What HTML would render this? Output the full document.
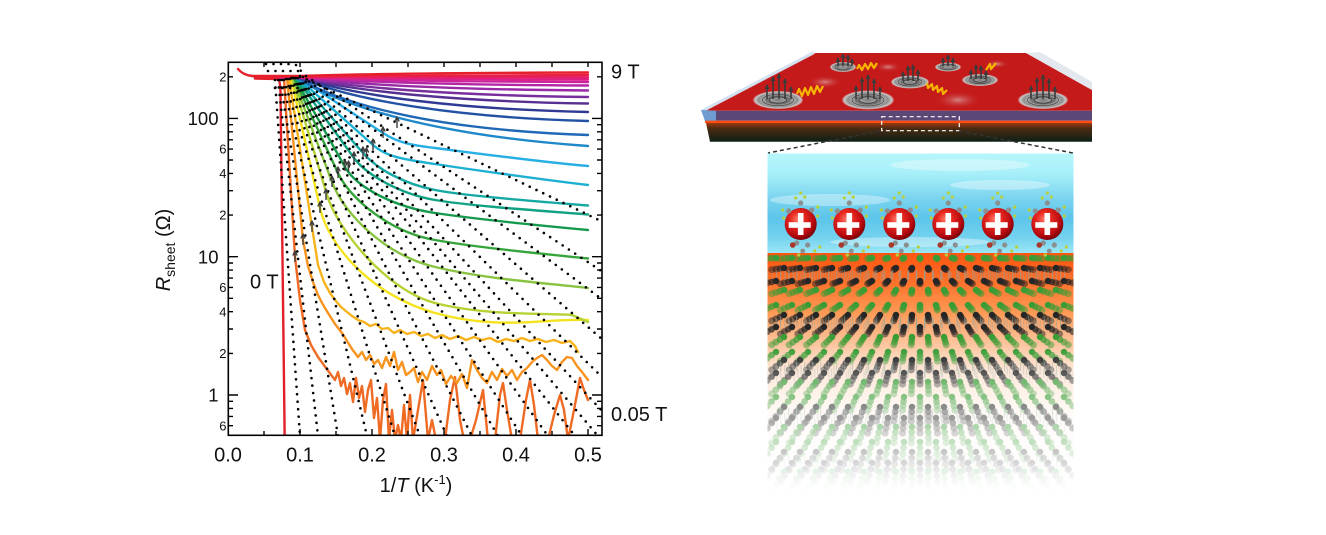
<!DOCTYPE html>
<html><head><meta charset="utf-8"><style>
html,body{margin:0;padding:0;background:#fff;}
svg{display:block;font-family:"Liberation Sans",Arial,Helvetica,sans-serif;}
</style></head><body>
<svg width="1326" height="535" viewBox="0 0 1326 535" xmlns="http://www.w3.org/2000/svg">
<defs>
<clipPath id="pc"><rect x="228.5" y="62.5" width="373" height="372.6"/></clipPath>
<clipPath id="panelc"><rect x="767.5" y="253" width="306" height="240"/></clipPath>
<linearGradient id="slabDark" x1="0" y1="0" x2="0" y2="1"><stop offset="0" stop-color="#9a3a10"/><stop offset="0.3" stop-color="#4a2a12"/><stop offset="1" stop-color="#0d2016"/></linearGradient>
<radialGradient id="vort"><stop offset="0" stop-color="#7a7a7a"/><stop offset="0.25" stop-color="#9c9c9c"/><stop offset="0.45" stop-color="#6a6a6a"/><stop offset="0.6" stop-color="#b0b0b0"/><stop offset="0.78" stop-color="#8d8d8d"/><stop offset="0.9" stop-color="#c8c8c8"/><stop offset="1" stop-color="#d8d8d8" stop-opacity="0.3"/></radialGradient>
<radialGradient id="fadeb"><stop offset="0" stop-color="#dca4a4" stop-opacity="0.75"/><stop offset="1" stop-color="#c51a1a" stop-opacity="0"/></radialGradient>
<linearGradient id="sky" x1="0" y1="0" x2="0" y2="1"><stop offset="0" stop-color="#b5f6fb"/><stop offset="0.2" stop-color="#a8f0f9"/><stop offset="0.45" stop-color="#7bd4f0"/><stop offset="0.65" stop-color="#5cc5ea"/><stop offset="0.85" stop-color="#74d2ef"/><stop offset="1" stop-color="#9de6f5"/></linearGradient>
<linearGradient id="orng" x1="0" y1="0" x2="0" y2="1"><stop offset="0" stop-color="#ff5512"/><stop offset="0.1" stop-color="#ff6a22"/><stop offset="0.25" stop-color="#fe9a56"/><stop offset="0.37" stop-color="#fcc29a"/><stop offset="0.5" stop-color="#fde3d0"/><stop offset="0.7" stop-color="#fff6f0"/><stop offset="1" stop-color="#ffffff"/></linearGradient>
<linearGradient id="wfade" x1="0" y1="0" x2="0" y2="1"><stop offset="0" stop-color="#fff" stop-opacity="0"/><stop offset="0.25" stop-color="#fff" stop-opacity="0.3"/><stop offset="0.5" stop-color="#fff" stop-opacity="0.55"/><stop offset="0.75" stop-color="#fff" stop-opacity="0.78"/><stop offset="0.92" stop-color="#fff" stop-opacity="0.95"/><stop offset="1" stop-color="#fff" stop-opacity="1"/></linearGradient>
<radialGradient id="ball" cx="0.4" cy="0.35" r="0.65"><stop offset="0" stop-color="#ff7a6a"/><stop offset="0.35" stop-color="#e8281f"/><stop offset="0.8" stop-color="#b5090f"/><stop offset="1" stop-color="#7c0309"/></radialGradient>
<marker id="ah" viewBox="0 0 6 6" refX="5" refY="3" markerWidth="5" markerHeight="5" orient="auto" markerUnits="userSpaceOnUse"><path d="M0 0L6 3L0 6z" fill="#3a3a3a"/></marker>
<g id="mol">
<circle cx="0" cy="-21" r="2.6" fill="#8a8f8f"/><circle cx="-12" cy="-13" r="2.6" fill="#8a8f8f"/><circle cx="11" cy="-14" r="2.6" fill="#8a8f8f"/><circle cx="-4" cy="19" r="2.6" fill="#8a8f8f"/><circle cx="7" cy="21" r="2.6" fill="#8a8f8f"/><circle cx="2" cy="27" r="2.4" fill="#8a8f8f"/>
<circle cx="-5" cy="-26" r="1.6" fill="#b7cf3d"/><circle cx="4" cy="-27" r="1.6" fill="#b7cf3d"/><circle cx="0" cy="-31" r="1.6" fill="#b7cf3d"/><circle cx="-17" cy="-6" r="1.6" fill="#b7cf3d"/><circle cx="17" cy="-8" r="1.6" fill="#b7cf3d"/><circle cx="-18" cy="-14" r="1.6" fill="#b7cf3d"/><circle cx="17" cy="-17" r="1.6" fill="#b7cf3d"/><circle cx="14" cy="27" r="1.6" fill="#b7cf3d"/><circle cx="19" cy="23" r="1.6" fill="#b7cf3d"/><circle cx="-2" cy="31" r="1.6" fill="#b7cf3d"/>
<circle cx="-8" cy="21" r="2.8" fill="#a8382a"/>
</g>
<g id="lat" stroke-linecap="round" fill="none">
<g stroke="#8aa5a2" stroke-width="9" stroke-dasharray="1.2 6.8" stroke-linecap="butt" opacity="0.5">
<line x1="780" y1="274.5" x2="1066" y2="274.5"/><line x1="780" y1="321" x2="1066" y2="321"/><line x1="780" y1="366.5" x2="1066" y2="366.5"/><line x1="780" y1="412.5" x2="1066" y2="412.5"/><line x1="780" y1="457.5" x2="1066" y2="457.5"/>
</g>
<g stroke="#3a9c35" stroke-width="6.5" stroke-dasharray="0 16">
<line x1="776" y1="258" x2="1068" y2="258"/><line x1="784" y1="290" x2="1068" y2="290"/><line x1="776" y1="305" x2="1068" y2="305"/><line x1="784" y1="337" x2="1068" y2="337"/><line x1="776" y1="352" x2="1068" y2="352"/><line x1="784" y1="382" x2="1068" y2="382"/><line x1="776" y1="397" x2="1068" y2="397"/><line x1="784" y1="427" x2="1068" y2="427"/><line x1="776" y1="442" x2="1068" y2="442"/><line x1="784" y1="472" x2="1068" y2="472"/>
</g>
<g stroke="#262626" stroke-width="6.5" stroke-dasharray="0 16">
<line x1="784" y1="268" x2="1068" y2="268"/><line x1="776" y1="281" x2="1068" y2="281"/><line x1="784" y1="315" x2="1068" y2="315"/><line x1="776" y1="327" x2="1068" y2="327"/><line x1="784" y1="360" x2="1068" y2="360"/><line x1="776" y1="373" x2="1068" y2="373"/><line x1="784" y1="407" x2="1068" y2="407"/><line x1="776" y1="418" x2="1068" y2="418"/><line x1="784" y1="452" x2="1068" y2="452"/><line x1="776" y1="463" x2="1068" y2="463"/>
</g>
</g>
</defs>

<!-- ===== CHART ===== -->
<g clip-path="url(#pc)" fill="none" stroke-width="2.4" stroke-linejoin="round" stroke-linecap="round">
<path stroke="#ef6a23" d="M255 78 L284 78 L295 257 L300 300 L305 330 L311 345 L318 357 L326 368 L332 376 L335 380 L338 372 L341 386 L344 378 L347 394 L350 383 L353 402 L356 378 L359 398 L362 386 L365 412 L368 390 L371 380 L374 418 L377 398 L380 440 L383 400 L386 384 L389 440 L392 410 L395 440 L398 425 L401 440 L404 405 L407 440 L410 395 L413 440 L418 410 L423 380 L428 440 L432 420 L436 440 L445 440 L450 400 L455 377 L460 420 L464 440 L470 440 L476 420 L483 390 L488 440 L495 440 L500 395 L503 383 L507 410 L512 440 L520 440 L526 400 L530 380 L534 405 L538 440 L548 440 L554 415 L560 395 L564 410 L568 440 L574 410 L580 378 L584 390 L588 400"/>
<path stroke="#f7931e" d="M255 78 L287 78 L303 240 L308 266 L313 282 L318 295 L322 303 L328 313 L335 324 L342 333 L347 341 L352 349 L358 357 L362 352 L366 360 L370 355 L374 364 L378 360 L382 368 L386 357 L390 366 L394 352 L398 370 L402 362 L406 375 L410 372 L414 368 L418 382 L422 372 L427 380 L432 366 L437 375 L441 370 L446 384 L451 376 L457 383 L462 374 L467 388 L472 360 L477 370 L482 378 L487 383 L492 372 L497 380 L502 369 L507 376 L512 370 L517 380 L522 372 L527 368 L532 362 L537 358 L542 355 L547 360 L552 366 L557 370 L562 362 L567 357 L572 358 L577 366 L582 372 L588 380"/>
<path stroke="#f8b21b" d="M255 78 L289 78 L312 227 L318 265 L324 282 L330 293 L335 300 L341 307 L347 312 L352 316 L358 320 L364 322 L370 326 L376 324 L382 329 L388 328 L394 333 L400 330 L407 334 L414 332 L421 336 L428 334 L435 338 L442 335 L450 339 L458 336 L466 340 L474 337 L482 340 L490 338 L498 342 L506 339 L514 341 L522 338 L530 341 L538 339 L546 342 L554 340 L562 343 L570 341 L575 346 L578 352"/>
<path stroke="#f4e31c" d="M255 78 L291 78 L320 208 C328 244 370 295 435 313 S545 318 588 320"/>
<path stroke="#b5d335" d="M255 78 L292 78 L327 195 C337 228 385 290 435 303 S548 313 572 315 L588 322"/>
<path stroke="#88c341" d="M255 78 L293 78 L332 182 C344 214 385 255 435 267 S545 283 588 288"/>
<path stroke="#35a53c" d="M255 78 L294 78 L338 173 C350 199 390 232 435 240 S545 254 588 258.5"/>
<path stroke="#169a4d" d="M255 78 L295 78 L345 167 C357 188 395 207 435 213 S545 226 588 230"/>
<path stroke="#11a283" d="M255 78 L296 78 L354 158 C366 174.5 400 194 435 200 S545 211 588 214.5"/>
<path stroke="#16a9a4" d="M255 78 L297 78 L363 153 C378 170 405 184 435 190 S545 202 588 205.5"/>
<path stroke="#1eb0d3" d="M255 78 L298 78 L373 145 C388 158.4 410 160 435 164 S545 180 588 185"/>
<path stroke="#28afe6" d="M255 78 L299 78 L383 133 C400 144 415 145.5 435 148 S540 162 588 166"/>
<path stroke="#1e88ca" d="M255 78 L296 78 C340 105 430 135 588 146"/>
<path stroke="#1f68b6" d="M255 78 L298 78 C350 109 450 130.4 588 135"/>
<path stroke="#2351a4" d="M255 78 L299 78 C358 101.7 460 117.6 588 121"/>
<path stroke="#303a92" d="M255 78 L300 78 C360 96.7 460 109.3 588 112"/>
<path stroke="#573192" d="M255 78 L300 78 C360 92 460 101.5 588 103.5"/>
<path stroke="#782f9d" d="M255 78 L300 78 C360 88.5 460 95.5 588 97"/>
<path stroke="#982ba5" d="M255 78 L300 78 C360 84.9 460 89.5 588 90.5"/>
<path stroke="#b426a6" d="M255 77.5 L300 77.5 C360 81.9 460 84.9 588 85.5"/>
<path stroke="#cc239c" d="M255 77.5 L300 77.5 C360 80 460 81.6 588 82"/>
<path stroke="#dc2086" d="M255 77 L300 77 C360 78.4 460 79.3 588 79.5"/>
<path stroke="#e41f68" d="M255 77 L300 77 C360 77.1 460 77.3 588 77.3"/>
<path stroke="#e91f48" d="M255 76.5 L300 76.5 C360 75.7 460 75.1 588 75"/>
<path stroke="#e5202a" d="M238 69 Q243 75 252 76 L300 76 C360 74 460 72.8 588 72.5"/>
<path stroke="#e3202a" d="M255 78.5 L278 79 Q280 80 280.5 92 L284.7 440"/>
<!-- dotted fits -->
<g stroke="#000" stroke-width="2.6" stroke-dasharray="0 7.5">
<line x1="275" y1="80" x2="300" y2="436"/><line x1="278" y1="80" x2="318" y2="436"/><line x1="280" y1="80" x2="338" y2="436"/><line x1="282" y1="80" x2="367" y2="436"/><line x1="284" y1="80" x2="395" y2="436"/><line x1="286" y1="79" x2="420" y2="436"/><line x1="288" y1="79" x2="447" y2="436"/><line x1="290" y1="79" x2="472" y2="436"/><line x1="291" y1="78" x2="498" y2="436"/><line x1="292" y1="78" x2="522" y2="436"/><line x1="293" y1="78" x2="548" y2="436"/><line x1="294" y1="78" x2="575" y2="436"/><line x1="295" y1="78" x2="598" y2="436"/><line x1="296" y1="78" x2="603" y2="412"/><line x1="298" y1="78" x2="603" y2="378"/><line x1="300" y1="77" x2="603" y2="340"/><line x1="303" y1="77" x2="603" y2="300"/><line x1="306" y1="76" x2="603" y2="272"/><line x1="300" y1="76" x2="603" y2="222"/>
<path d="M266 64 H292"/><path d="M268 71 H300"/><path d="M296 65 Q300 68 304 77"/><path d="M275 88 H303"/>
</g>
<g stroke="#3d3d3d" stroke-width="1.4" stroke-dasharray="none" stroke-linecap="butt">
<path d="M397 128V117M394.8 121.5L397 117L399.2 121.5"/>
<path d="M383 138V127M380.8 131.5L383 127L385.2 131.5"/>
<path d="M373 150V139M370.8 143.5L373 139L375.2 143.5"/>
<path d="M363 158V147M360.8 151.5L363 147L365.2 151.5"/>
<path d="M366.5 159V148M364.3 152.5L366.5 148L368.7 152.5"/>
<path d="M354 163V152M351.8 156.5L354 152L356.2 156.5"/>
<path d="M345 171V160M342.8 164.5L345 160L347.2 164.5"/>
<path d="M348.5 172V161M346.3 165.5L348.5 161L350.7 165.5"/>
<path d="M338 178V167M335.8 171.5L338 167L340.2 171.5"/>
<path d="M332 187V176M329.8 180.5L332 176L334.2 180.5"/>
<path d="M326 200V189M323.8 193.5L326 189L328.2 193.5"/>
<path d="M320 213V202M317.8 206.5L320 202L322.2 206.5"/>
<path d="M312 232V221M309.8 225.5L312 221L314.2 225.5"/>
<path d="M303 245V234M300.8 238.5L303 234L305.2 238.5"/>
<path d="M295 262V251M292.8 255.5L295 251L297.2 255.5"/>
</g>
</g>
<!-- frame and ticks -->
<rect x="228.3" y="62.3" width="373.7" height="373" fill="none" stroke="#000" stroke-width="1.6"/>
<path fill="none" stroke="#000" stroke-width="1.4" d="M228 425.7h5M228 416.4h5M228 408.4h5M228 401.3h5M228 353.4h5M228 329h5M228 311.7h5M228 298.3h5M228 287.4h5M228 278.1h5M228 270.1h5M228 263h5M228 215.1h5M228 190.7h5M228 173.4h5M228 160h5M228 149.1h5M228 139.8h5M228 131.8h5M228 124.7h5M228 76.8h5M228 395h10M228 256.7h10M228 118.4h10
M602 425.7h-5M602 416.4h-5M602 408.4h-5M602 401.3h-5M602 353.4h-5M602 329h-5M602 311.7h-5M602 298.3h-5M602 287.4h-5M602 278.1h-5M602 270.1h-5M602 263h-5M602 215.1h-5M602 190.7h-5M602 173.4h-5M602 160h-5M602 149.1h-5M602 139.8h-5M602 131.8h-5M602 124.7h-5M602 76.8h-5M602 395h-10M602 256.7h-10M602 118.4h-10
M264 62v5M300 62v5M336 62v5M372 62v5M408 62v5M444 62v5M480 62v5M516 62v5M552 62v5M588 62v5
M264 435v-4M300 435v-6M336 435v-4M372 435v-6M408 435v-4M444 435v-6M480 435v-4M516 435v-6M552 435v-4M588 435v-6"/>
<g fill="#111" font-size="13" text-anchor="end">
<text x="226.5" y="81.4">2</text><text x="226.5" y="153.7">6</text><text x="226.5" y="178">4</text><text x="226.5" y="219.7">2</text><text x="226.5" y="292">6</text><text x="226.5" y="316.3">4</text><text x="226.5" y="358">2</text><text x="226.5" y="430.3">6</text>
</g>
<g fill="#111" font-size="18.5" text-anchor="end">
<text x="218.5" y="125">100</text><text x="218.5" y="263.3">10</text><text x="218.5" y="401.6">1</text>
</g>
<g fill="#111" font-size="20" text-anchor="middle">
<text x="228" y="461.5">0.0</text><text x="300" y="461.5">0.1</text><text x="372" y="461.5">0.2</text><text x="444" y="461.5">0.3</text><text x="516" y="461.5">0.4</text><text x="588" y="461.5">0.5</text>
</g>
<text x="416" y="492" text-anchor="middle" font-size="20" fill="#111">1/<tspan font-style="italic">T</tspan> (K<tspan font-size="13" dy="-8">-1</tspan><tspan dy="8">)</tspan></text>
<text transform="translate(170,250) rotate(-90)" text-anchor="middle" font-size="20" fill="#111"><tspan font-style="italic">R</tspan><tspan font-size="14" dy="5">sheet</tspan><tspan dy="-5"> (Ω)</tspan></text>
<text x="611" y="78.5" font-size="20" fill="#111">9 T</text>
<text x="250" y="288.5" font-size="20" fill="#111">0 T</text>
<text x="611" y="421" font-size="20" fill="#111">0.05 T</text>

<!-- ===== ILLUSTRATION ===== -->
<polygon points="815,53 1026,53 1092,90 1092,110.7 703,110.7" fill="#c51a1a"/>
<polygon points="1026,53 1040,52 1092,82 1092,90" fill="#e3e8ee"/>
<line x1="702" y1="111" x2="814" y2="52.5" stroke="#d3e2f0" stroke-width="3"/>
<polygon points="703,110.7 1092,110.7 1092,120.7 705,120.7" fill="#5c4877"/>
<polygon points="701,110 716,110.7 716,120.7 705,121" fill="#6e9bd2"/>
<rect x="705" y="120.7" width="387" height="2.3" fill="#ff4a10"/>
<polygon points="706,123 1092,123 1092,141.7 710,141.7" fill="url(#slabDark)"/>
<!-- faded blobs -->
<ellipse cx="825" cy="82" rx="18" ry="6.5" fill="url(#fadeb)"/>
<ellipse cx="888" cy="67" rx="13" ry="5" fill="url(#fadeb)"/>
<ellipse cx="958" cy="100" rx="24" ry="9" fill="url(#fadeb)"/>
<ellipse cx="997" cy="64" rx="12" ry="4.5" fill="url(#fadeb)"/>
<!-- vortices -->
<g fill="none">
<ellipse cx="778" cy="100" rx="25" ry="9" fill="url(#vort)"/><ellipse cx="778" cy="100" rx="15.5" ry="5.6" stroke="#4a4a4a" stroke-width=".8"/><ellipse cx="778" cy="100" rx="8.8" ry="3.2" stroke="#3a3a3a" stroke-width=".8"/>
<ellipse cx="868" cy="100" rx="26" ry="9.5" fill="url(#vort)"/><ellipse cx="868" cy="100" rx="16" ry="5.9" stroke="#4a4a4a" stroke-width=".8"/><ellipse cx="868" cy="100" rx="9" ry="3.3" stroke="#3a3a3a" stroke-width=".8"/>
<ellipse cx="1043" cy="100" rx="25" ry="9" fill="url(#vort)"/><ellipse cx="1043" cy="100" rx="15.5" ry="5.6" stroke="#4a4a4a" stroke-width=".8"/><ellipse cx="1043" cy="100" rx="8.8" ry="3.2" stroke="#3a3a3a" stroke-width=".8"/>
<ellipse cx="910" cy="82" rx="19" ry="6.5" fill="url(#vort)"/><ellipse cx="910" cy="82" rx="11.8" ry="4" stroke="#4a4a4a" stroke-width=".8"/><ellipse cx="910" cy="82" rx="6.6" ry="2.3" stroke="#3a3a3a" stroke-width=".8"/>
<ellipse cx="843" cy="67" rx="13" ry="5" fill="url(#vort)"/><ellipse cx="843" cy="67" rx="8" ry="3.1" stroke="#4a4a4a" stroke-width=".8"/>
<ellipse cx="948" cy="67" rx="13" ry="4.5" fill="url(#vort)"/><ellipse cx="948" cy="67" rx="8" ry="2.8" stroke="#4a4a4a" stroke-width=".8"/>
<ellipse cx="980" cy="80" rx="18" ry="6" fill="url(#vort)"/><ellipse cx="980" cy="80" rx="11" ry="3.7" stroke="#4a4a4a" stroke-width=".8"/><ellipse cx="980" cy="80" rx="6.3" ry="2.1" stroke="#3a3a3a" stroke-width=".8"/>
</g>
<g stroke="#3a3a3a" stroke-width="1.6" marker-end="url(#ah)">
<line x1="767" y1="99" x2="767" y2="85"/><line x1="773" y1="99" x2="773" y2="77"/><line x1="779" y1="99" x2="779" y2="74"/><line x1="785" y1="99" x2="785" y2="79"/><line x1="791" y1="99" x2="791" y2="87"/>
<line x1="856" y1="99" x2="856" y2="86"/><line x1="862" y1="99" x2="862" y2="78"/><line x1="868" y1="99" x2="868" y2="75"/><line x1="874" y1="99" x2="874" y2="79"/><line x1="880" y1="99" x2="880" y2="87"/>
<line x1="1031" y1="99" x2="1031" y2="86"/><line x1="1037" y1="99" x2="1037" y2="78"/><line x1="1043" y1="99" x2="1043" y2="75"/><line x1="1049" y1="99" x2="1049" y2="79"/><line x1="1055" y1="99" x2="1055" y2="87"/>
<line x1="903" y1="81" x2="903" y2="72"/><line x1="908" y1="81" x2="908" y2="66"/><line x1="913" y1="81" x2="913" y2="65"/><line x1="918" y1="81" x2="918" y2="70"/>
<line x1="838" y1="66" x2="838" y2="58"/><line x1="843" y1="66" x2="843" y2="54"/><line x1="848" y1="66" x2="848" y2="55"/><line x1="852" y1="66" x2="852" y2="59"/>
<line x1="943" y1="66" x2="943" y2="58"/><line x1="948" y1="66" x2="948" y2="55"/><line x1="953" y1="66" x2="953" y2="58"/>
<line x1="971" y1="79" x2="971" y2="70"/><line x1="976" y1="79" x2="976" y2="65"/><line x1="981" y1="79" x2="981" y2="66"/><line x1="986" y1="79" x2="986" y2="71"/>
</g>
<g fill="none" stroke="#f6b600" stroke-width="2.2" stroke-linejoin="round">
<polyline points="797,94 799,89 802,96 805,88 808,95 811,87 814,94 817,86 820,92 823,86"/>
<polyline points="857,69 859,65 862,70 865,64 868,69 871,63 874,68 877,63"/>
<polyline points="927,83 928,88 932,84 933,90 937,86 938,92 942,88 943,94 947,90"/>
<polyline points="986,70 990,64 991,69 996,63"/>
</g>
<rect x="881.7" y="116.7" width="77.6" height="14" fill="none" stroke="#fff" stroke-width="1.2" stroke-dasharray="4 3"/>
<g stroke="#333" stroke-width="1.5" stroke-dasharray="4 3">
<line x1="880" y1="131" x2="768" y2="153"/><line x1="959" y1="131" x2="1073" y2="153"/>
</g>
<!-- zoomed panel -->
<rect x="767.5" y="153.5" width="306" height="99.5" fill="url(#sky)"/>
<g fill="#ffffff" opacity="0.35">
<ellipse cx="830" cy="200" rx="60" ry="6"/><ellipse cx="1000" cy="185" rx="50" ry="5"/><ellipse cx="910" cy="242" rx="80" ry="5"/><ellipse cx="960" cy="165" rx="70" ry="6"/>
</g>
<rect x="767.5" y="253" width="306" height="240" fill="url(#orng)"/>
<g clip-path="url(#panelc)">
<use href="#lat" transform="translate(920 250) scale(1.09) translate(-920 -250)" opacity="0.5"/>
<use href="#lat" transform="translate(920 250) scale(1.06) translate(-920 -250)" opacity="0.6"/>
<use href="#lat" transform="translate(920 250) scale(1.03) translate(-920 -250)" opacity="0.75"/>
<use href="#lat"/>
</g>
<rect x="767.5" y="345" width="306" height="150" fill="url(#wfade)"/>
<!-- spheres -->
<g>
<circle cx="800.7" cy="224" r="16" fill="url(#ball)"/><circle cx="849.3" cy="224" r="16" fill="url(#ball)"/><circle cx="899.3" cy="224" r="16" fill="url(#ball)"/><circle cx="948.3" cy="224" r="16" fill="url(#ball)"/><circle cx="997.7" cy="224" r="16" fill="url(#ball)"/><circle cx="1047.3" cy="224" r="16" fill="url(#ball)"/>
</g>
<use href="#mol" transform="translate(800.7 224)"/><use href="#mol" transform="translate(849.3 224)"/><use href="#mol" transform="translate(899.3 224)"/><use href="#mol" transform="translate(948.3 224)"/><use href="#mol" transform="translate(997.7 224)"/><use href="#mol" transform="translate(1047.3 224)"/>
<g fill="#fff">
<rect x="788.7" y="222.2" width="22" height="5.6"/><rect x="797.9" y="213" width="5.6" height="22"/>
<rect x="837.3" y="222.2" width="22" height="5.6"/><rect x="846.5" y="213" width="5.6" height="22"/>
<rect x="887.3" y="222.2" width="22" height="5.6"/><rect x="896.5" y="213" width="5.6" height="22"/>
<rect x="936.3" y="222.2" width="22" height="5.6"/><rect x="945.5" y="213" width="5.6" height="22"/>
<rect x="985.7" y="222.2" width="22" height="5.6"/><rect x="994.9" y="213" width="5.6" height="22"/>
<rect x="1035.3" y="222.2" width="22" height="5.6"/><rect x="1044.5" y="213" width="5.6" height="22"/>
</g>
</svg>
</body></html>
